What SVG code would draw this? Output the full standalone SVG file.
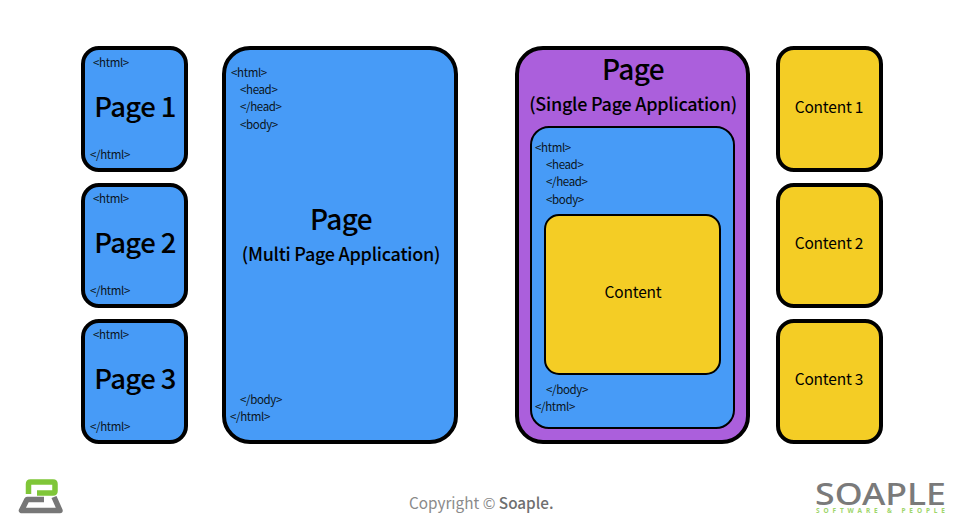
<svg xmlns="http://www.w3.org/2000/svg" width="960" height="525" viewBox="0 0 960 525">
<style>
text{font-family:"Noto Sans CJK KR","Noto Sans",sans-serif;fill:#000;font-weight:500}
.tag{font-size:11.5px;fill:#0a1420;letter-spacing:-.35px;font-weight:400}
.c{text-anchor:middle}
.big{font-size:27.5px;letter-spacing:-.6px}
.mid{font-size:18px;letter-spacing:-.25px}
.ttl{font-size:28px;letter-spacing:-.6px}
.ct{font-size:15.5px;letter-spacing:-.2px;font-weight:400}
.box{stroke:#000;stroke-width:4}
.blue{fill:#479bf7}
.yel{fill:#f4cd25}
.pur{fill:#ab5fdc}
</style>
<rect width="960" height="525" fill="#fff"/>
<g id="page1"><rect class="box blue" x="83" y="48" width="103" height="122" rx="16"/><text class="tag" x="93" y="66.500">&lt;html&gt;</text><text class="c big" x="135" y="117">Page 1</text><text class="tag" x="90" y="158.500">&lt;/html&gt;</text></g>
<g id="page2"><rect class="box blue" x="83" y="185" width="103" height="121" rx="16"/><text class="tag" x="93" y="202.500">&lt;html&gt;</text><text class="c big" x="135" y="253">Page 2</text><text class="tag" x="90" y="294.500">&lt;/html&gt;</text></g>
<g id="page3"><rect class="box blue" x="83" y="321" width="103" height="121" rx="16"/><text class="tag" x="93" y="338.500">&lt;html&gt;</text><text class="c big" x="135" y="389">Page 3</text><text class="tag" x="90" y="430.500">&lt;/html&gt;</text></g>
<g id="mpa"><rect class="box blue" x="224" y="48" width="232" height="394" rx="26"/>
<text class="tag" x="231" y="76.500">&lt;html&gt;</text><text class="tag" x="240" y="93.500">&lt;head&gt;</text><text class="tag" x="240" y="111">&lt;/head&gt;</text><text class="tag" x="240" y="128.500">&lt;body&gt;</text>
<text class="c ttl" x="341" y="230">Page</text><text class="c mid" x="341" y="261">(Multi Page Application)</text>
<text class="tag" x="240" y="403.500">&lt;/body&gt;</text><text class="tag" x="230" y="420.500">&lt;/html&gt;</text></g>
<g id="spa"><rect class="box pur" x="517" y="48" width="231" height="394" rx="26"/>
<text class="c ttl" x="633" y="80">Page</text><text class="c mid" x="633" y="111">(Single Page Application)</text></g>
<g id="spa-inner"><rect x="531" y="127" width="203" height="301" rx="18" class="blue" stroke="#000" stroke-width="2"/>
<text class="tag" x="535" y="151.500">&lt;html&gt;</text><text class="tag" x="546" y="168.500">&lt;head&gt;</text><text class="tag" x="546" y="186">&lt;/head&gt;</text><text class="tag" x="546" y="203.500">&lt;body&gt;</text>
<text class="tag" x="546" y="393.500">&lt;/body&gt;</text><text class="tag" x="535" y="410.500">&lt;/html&gt;</text></g>
<g id="content"><rect x="545" y="215" width="175" height="159" rx="14" class="yel" stroke="#000" stroke-width="2"/><text class="c ct" x="633" y="298">Content</text></g>
<g id="content1"><rect class="box yel" x="778" y="48" width="103" height="122" rx="16"/><text class="c ct" x="829" y="113">Content 1</text></g>
<g id="content2"><rect class="box yel" x="778" y="185" width="103" height="121" rx="16"/><text class="c ct" x="829" y="249">Content 2</text></g>
<g id="content3"><rect class="box yel" x="778" y="321" width="103" height="121" rx="16"/><text class="c ct" x="829" y="385">Content 3</text></g>
<g id="connectors"></g>
<g id="logo-left">
<path d="M28.500 494V484Q28.500 482 30.500 482H53Q55 482 55 484V491Q55 493 53 493H37" fill="none" stroke="#7fc638" stroke-width="5.500" stroke-linejoin="round"/>
<path d="M44 499.500H27L21.500 510.500H60L54 497" fill="none" stroke="#777" stroke-width="5.500" stroke-linejoin="round"/>
</g>
<g id="copyright"><text x="409" y="509" font-size="15.300" style="fill:#8a8a8a;font-weight:400">Copyright © <tspan style="fill:#6f6f6f;font-weight:500">Soaple.</tspan></text></g>
<g id="logo-right"><text x="815" y="504.500" font-size="31" style="fill:#7a7a7a;font-family:'Noto Sans','Liberation Sans',sans-serif" textLength="131" lengthAdjust="spacingAndGlyphs">SOAPLE</text>
<text x="816" y="512.500" font-size="6.500" style="fill:#9ed56a;font-weight:700;font-family:'Noto Sans','Liberation Sans',sans-serif" textLength="129">SOFTWARE &amp; PEOPLE</text></g>
</svg>
